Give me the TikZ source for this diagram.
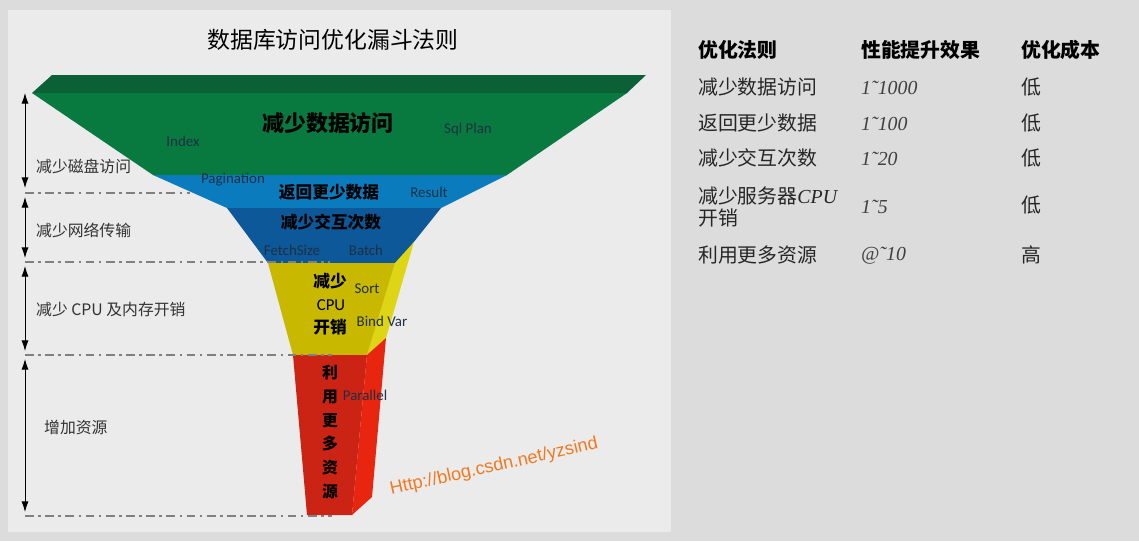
\documentclass[tikz,border=0pt]{standalone}
\usepackage{fontspec}
\setmainfont{Carlito}
\newfontfamily\cjk{Noto Sans CJK SC}
\newfontfamily\tmsfont{Liberation Serif}
\newfontfamily\arialfont{Liberation Sans}
\usetikzlibrary{arrows.meta}
\definecolor{page-gray}{RGB}{220,220,220}
\definecolor{panel-gray}{RGB}{235,235,235}
\definecolor{funnel-greentop}{RGB}{12,96,54}
\definecolor{funnel-green}{RGB}{8,122,64}
\definecolor{funnel-blue}{RGB}{10,124,190}
\definecolor{funnel-navy}{RGB}{12,88,152}
\definecolor{funnel-yellow}{RGB}{200,184,0}
\definecolor{funnel-yellowside}{RGB}{222,214,20}
\definecolor{funnel-red}{RGB}{204,36,20}
\definecolor{funnel-redside}{RGB}{232,38,16}
\definecolor{link-orange}{RGB}{240,122,32}
\definecolor{label-gray}{RGB}{50,50,50}
\definecolor{tag-gray}{RGB}{30,48,66}

\begin{document}
\begin{tikzpicture}[x=0.02cm, y=-0.02cm,
  band/.style={font=\cjk\bfseries\fontsize{9.5}{11}\selectfont, text=black},
  tag/.style={font=\fontsize{8.5}{10}\selectfont, text=tag-gray},
  side/.style={anchor=west, font=\cjk\fontsize{9}{11}\selectfont, text=label-gray},
  dim/.style={{Latex[length=6pt,width=4pt]}-{Latex[length=6pt,width=4pt]}, line width=0.5pt},
  guide/.style={draw=black!50, line width=0.9pt, dash pattern=on 5pt off 2.5pt on 1.5pt off 2.5pt},
  head/.style={anchor=west, font=\cjk\bfseries\fontsize{11.3}{13}\selectfont},
  cell/.style={anchor=west, font=\cjk\fontsize{11.3}{13}\selectfont, text=black!85},
  gain/.style={anchor=west, font=\tmsfont\itshape\fontsize{11.3}{13}\selectfont, text=black!75},
]
  % Page and panel
  \fill[page-gray] (0,0) rectangle (1139,541);
  \fill[panel-gray] (8,10) rectangle (671,532);

  % Title
  \node[font=\cjk\fontsize{13}{15}\selectfont] (title) at (333,40) {数据库访问优化漏斗法则};

  % Funnel
  \fill[funnel-greentop] (52,75) -- (646,75) -- (627,93) -- (32,93) -- cycle;
  \fill[funnel-green] (32,93) -- (627,93) -- (507,175) -- (153,175) -- cycle;
  \fill[funnel-blue] (153,175) -- (507,175) -- (441,208) -- (227,208) -- cycle;
  \fill[funnel-navy] (227,208) -- (441,208) -- (397,263) -- (268,263) -- cycle;
  \fill[funnel-yellowside] (395,263) -- (414,242) -- (386,338) -- (367,355) -- cycle;
  \fill[funnel-yellow] (268,263) -- (395,263) -- (367,355) -- (293,355) -- cycle;
  \fill[funnel-redside] (367,355) -- (386,338) -- (372,497) -- (352,515) -- cycle;
  \fill[funnel-red] (293,355) -- (367,355) -- (352,515) -- (307,515) -- cycle;

  % Funnel texts
  \node[band, font=\cjk\bfseries\fontsize{12.5}{14}\selectfont] (lessdata) at (328,123) {减少数据访问};
  \node[tag] (index) at (183,141) {Index};
  \node[tag] (sqlplan) at (468,130) {Sql Plan};
  \node[tag] (pagination) at (233,180) {Pagination};
  \node[band] (lessrows) at (329,192) {返回更少数据};
  \node[tag] (result) at (429,192) {Result};
  \node[band] (lesstrips) at (331,222) {减少交互次数};
  \node[tag] (fetchsize) at (292,250) {FetchSize};
  \node[tag] (batch) at (366,250) {Batch};
  \node[band] (lesscpu) at (330,281) {减少};
  \node[font=\fontsize{9.5}{11}\selectfont] (cpu) at (331,305) {CPU};
  \node[band] (cpucost) at (330,327) {开销};
  \node[tag] (sort) at (367,289) {Sort};
  \node[tag] (bindvar) at (382,321) {Bind Var};
  \node[band, font=\cjk\bfseries\fontsize{9}{13.5}\selectfont, align=center] (moreres) at (330,432) {利\\用\\更\\多\\资\\源};
  \node[tag] (parallel) at (365,395) {Parallel};
  \node[rotate=12.5, font=\arialfont\fontsize{10.3}{12}\selectfont, text=link-orange] (blogurl) at (494,467) {Http://blog.csdn.net/yzsind};

  % Side dimensions
  \coordinate (d1top) at (25,93);
  \coordinate (d1bot) at (25,188);
  \coordinate (d2top) at (25,197);
  \coordinate (d2bot) at (25,258);
  \coordinate (d3top) at (25,266);
  \coordinate (d3bot) at (25,351);
  \coordinate (d4top) at (25,359);
  \coordinate (d4bot) at (25,512);
  \draw[dim] (d1top) -- (d1bot);
  \draw[dim] (d2top) -- (d2bot);
  \draw[dim] (d3top) -- (d3bot);
  \draw[dim] (d4top) -- (d4bot);
  \draw[guide] (25,193) -- (190,193);
  \draw[guide] (25,262) -- (330,262);
  \draw[guide] (25,355) -- (332,355);
  \draw[guide] (25,516) -- (332,516);
  \node[side] (disk) at (30,166) {减少磁盘访问};
  \node[side] (network) at (30,230) {减少网络传输};
  \node[side] (memory) at (30,310) {减少 CPU 及内存开销};
  \node[side] (resource) at (38,427) {增加资源};

  % Table
  \node[head] (h1) at (692,50) {优化法则};
  \node[head] (h2) at (855,50) {性能提升效果};
  \node[head] (h3) at (1015,50) {优化成本};
  \node[cell] (r1a) at (692,87) {减少数据访问};
  \node[gain] (r1b) at (855,88) {1˜1000};
  \node[cell] (r1c) at (1015,87) {低};
  \node[cell] (r2a) at (692,123) {返回更少数据};
  \node[gain] (r2b) at (855,124) {1˜100};
  \node[cell] (r2c) at (1015,123) {低};
  \node[cell] (r3a) at (692,158) {减少交互次数};
  \node[gain] (r3b) at (855,159) {1˜20};
  \node[cell] (r3c) at (1015,158) {低};
  \node[cell, align=left, font=\cjk\fontsize{11.3}{12.2}\selectfont] (r4a) at (692,207) {减少服务器{\tmsfont\itshape CPU}\\开销};
  \node[gain] (r4b) at (855,207) {1˜5};
  \node[cell] (r4c) at (1015,205) {低};
  \node[cell] (r5a) at (692,255) {利用更多资源};
  \node[gain] (r5b) at (855,256) {@˜10};
  \node[cell] (r5c) at (1015,255) {高};
\end{tikzpicture}
\end{document}
